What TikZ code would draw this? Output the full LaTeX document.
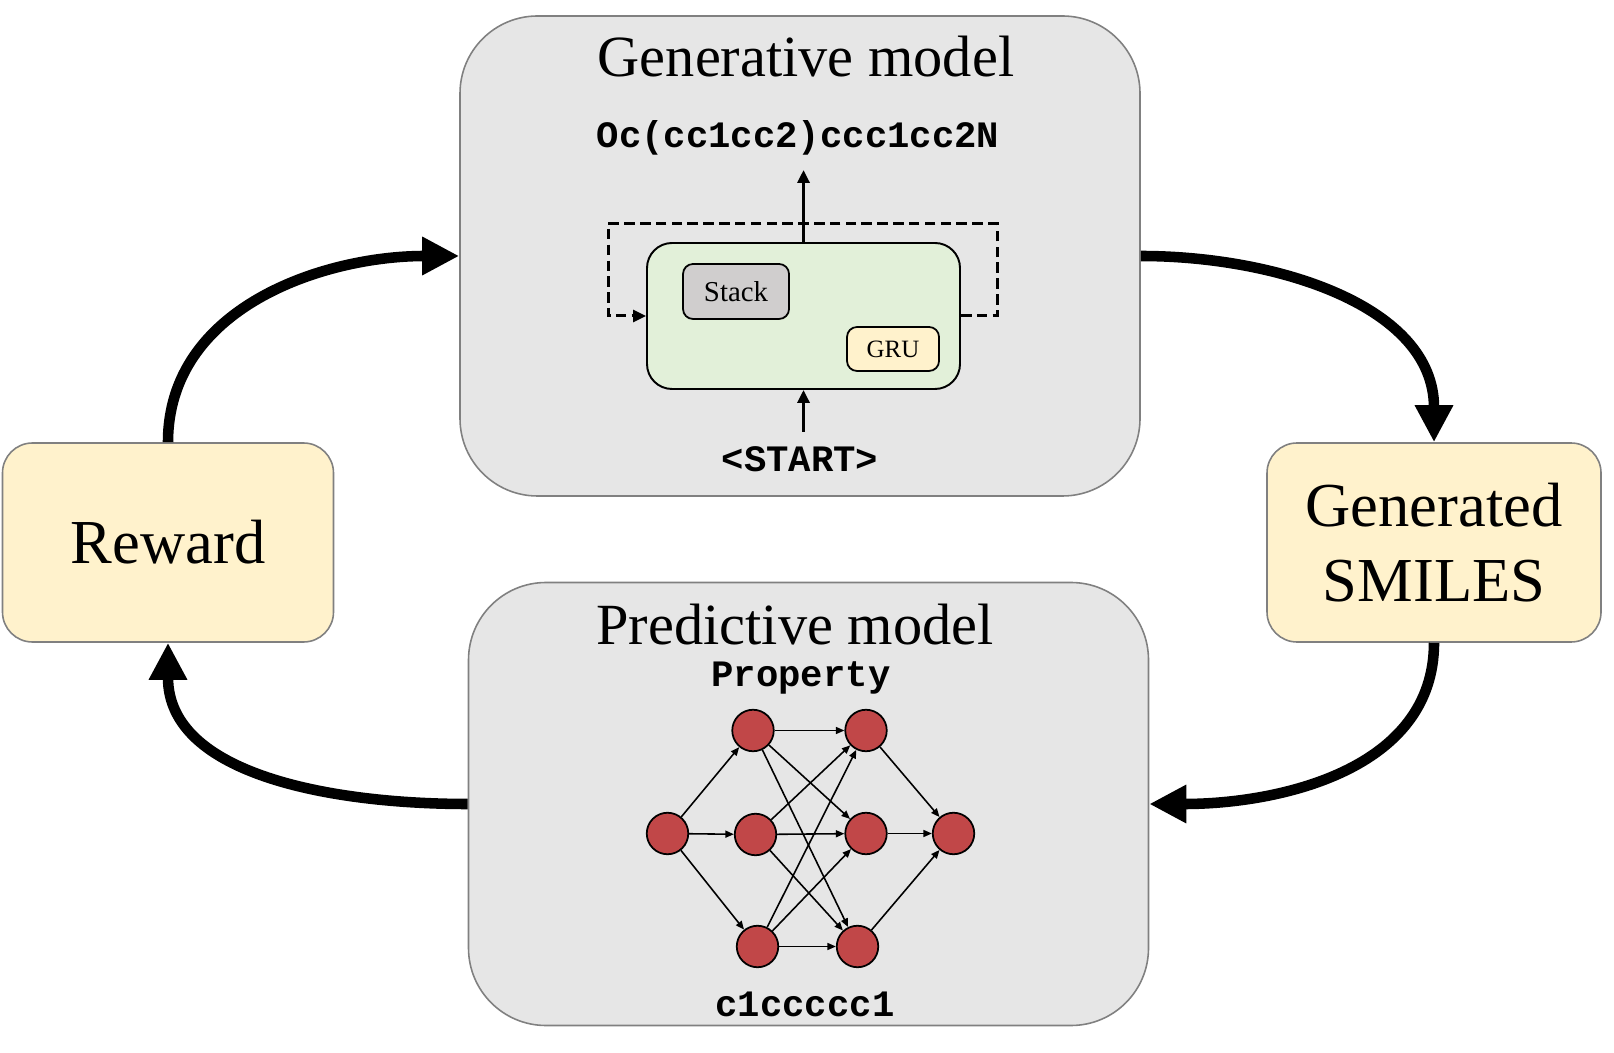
\documentclass[tikz,border=0pt]{standalone}
\usepackage{fontspec}
\setmainfont{Liberation Serif}
\setmonofont{Liberation Mono}
\usepackage{tikz}
\usetikzlibrary{arrows.meta}
\usepackage{xcolor}
\definecolor{boxgray}{RGB}{230,230,230}
\definecolor{edgegray}{RGB}{128,128,128}
\definecolor{boxyellow}{RGB}{255,242,204}
\definecolor{boxgreen}{RGB}{226,240,217}
\definecolor{stackgray}{RGB}{208,206,206}
\definecolor{neured}{RGB}{193,71,72}

\begin{document}
\begin{tikzpicture}

		\useasboundingbox (0,0) rectangle (32.28,21.04);
		\tikzset{grand/.style={draw=edgegray, fill=boxgray, line width=0.9pt, rounded corners=1.55cm, minimum width=13.6cm, inner sep=0}}
		\tikzset{petit/.style={draw=edgegray, fill=boxyellow, line width=0.9pt, rounded corners=0.6cm, minimum width=6.62cm, minimum height=3.98cm, align=center, font=\fontsize{35.6}{42.7}\selectfont}}
		\tikzset{titre/.style={anchor=base, inner sep=0, font=\fontsize{33.2}{40}\selectfont}}
		\tikzset{mono/.style={anchor=base, inner sep=0, font=\ttfamily\bfseries\fontsize{21.2}{24}\selectfont}}
		\tikzset{module/.style={draw, line width=1pt, rounded corners=0.2cm, inner sep=0}}
		\tikzset{neur/.style={draw, circle, fill=neured, line width=1pt, minimum size=0.83cm, inner sep=0}}
		\tikzset{fleche/.style={line width=6pt, -{Triangle[length=0.74cm, width=0.72cm]}}}
		\tikzset{mince/.style={line width=1.8pt, -{Triangle[length=0.26cm, width=0.24cm]}}}
		\tikzset{tiret/.style={line width=1.7pt, dash pattern=on 6pt off 3pt, -{Triangle[length=0.26cm, width=0.24cm]}}}
		\tikzset{lien/.style={line width=0.9pt, -{Triangle[length=0.17cm, width=0.14cm]}}}

		\node[grand, minimum height=9.6cm] (GEN) at (16.0,15.92) {};
		\node[grand, minimum height=8.86cm] (PRED) at (16.17,4.96) {};
		\node[petit] (REW) at (3.36,10.19) {Reward};
		\node[petit, minimum width=6.68cm] (SMI) at (28.68,10.19) {Generated\\SMILES};

		\node[titre] (GT) at (16.12,19.5) {Generative model};
		\node[titre] (PT) at (15.9,8.14) {Predictive model};

		\node[draw, fill=boxgreen, line width=1.1pt, rounded corners=0.5cm, minimum width=6.26cm, minimum height=2.92cm] (RNN) at (16.07,14.72) {};
		\node[module, fill=stackgray, minimum width=2.12cm, minimum height=1.1cm, font=\fontsize{16.4}{18}\selectfont] (STK) at (14.72,15.21) {Stack};
		\node[module, fill=boxyellow, minimum width=1.84cm, minimum height=0.88cm, font=\fontsize{14.2}{16}\selectfont] (GRU) at (17.86,14.06) {GRU};

		\node[mono] (OUT) at (15.96,18.08) {Oc(cc1cc2)ccc1cc2N};
		\node[mono] (START) at (16.0,11.6) {<START>};
		\node[mono] (PROP) at (16.02,7.3) {Property};
		\node[mono] (MOL) at (16.1,0.72) {c1ccccc1};

		\coordinate (OH) at (16.07,17.64);
		\coordinate (SB) at (16.07,12.4);
		\coordinate (DR) at (19.94,16.56);
		\coordinate (DL) at (12.16,16.56);

    \draw[mince] (RNN.north) -- (OH);
    \draw[mince] (SB) -- (RNN.south);
    \draw[tiret] (RNN.east) -| (DR) -| (DL) |- (RNN.west);

		\node[neur] (I) at (13.35,4.37) {};
		\node[neur] (A1) at (15.06,6.43) {};
		\node[neur] (B1) at (15.11,4.35) {};
		\node[neur] (C1) at (15.15,2.11) {};
		\node[neur] (A2) at (17.32,6.43) {};
		\node[neur] (B2) at (17.32,4.37) {};
		\node[neur] (C2) at (17.15,2.11) {};
		\node[neur] (O) at (19.07,4.37) {};

    \draw[lien] (I) -- (A1);
    \draw[lien] (I) -- (B1);
    \draw[lien] (I) -- (C1);
    \draw[lien] (A1) -- (A2);
    \draw[lien] (A1) -- (B2);
    \draw[lien] (A1) -- (C2);
    \draw[lien] (B1) -- (A2);
    \draw[lien] (B1) -- (B2);
    \draw[lien] (B1) -- (C2);
    \draw[lien] (C1) -- (A2);
    \draw[lien] (C1) -- (B2);
    \draw[lien] (C1) -- (C2);
    \draw[lien] (A2) -- (O);
    \draw[lien] (B2) -- (O);
    \draw[lien] (C2) -- (O);

    \draw[fleche] (REW.north) to[out=90, in=180] (GEN.west);
    \draw[fleche] (GEN.east) to[out=0, in=90] (SMI.north);
    \draw[fleche] (SMI.south) to[out=-90, in=0] (PRED.east);
    \draw[fleche] (PRED.west) to[out=180, in=-90] (REW.south);

\end{tikzpicture}
\end{document}
